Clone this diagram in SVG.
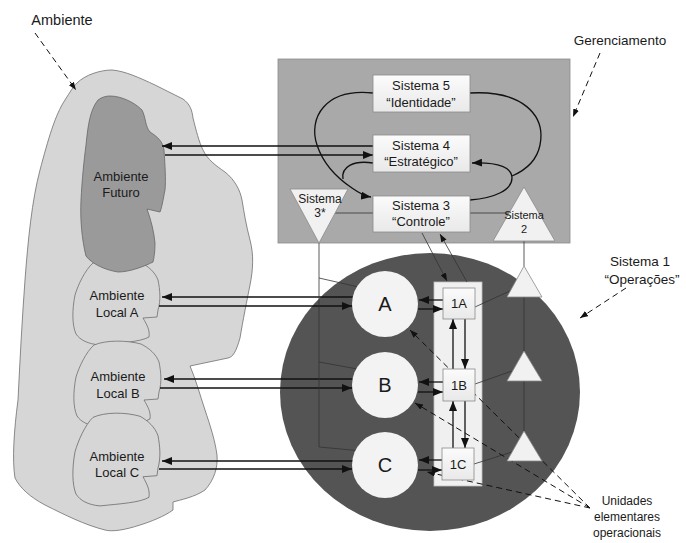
<svg xmlns="http://www.w3.org/2000/svg" width="686" height="543" viewBox="0 0 686 543">
  <defs>
    <marker id="arr" viewBox="0 0 10 8" refX="10" refY="4" markerWidth="10" markerHeight="8" markerUnits="userSpaceOnUse" orient="auto">
      <path d="M0,0 L10,4 L0,8 Z" fill="#111"/>
    </marker>
    <marker id="arrs" viewBox="0 0 8 6" refX="8" refY="3" markerWidth="8" markerHeight="6" markerUnits="userSpaceOnUse" orient="auto">
      <path d="M0,0 L8,3 L0,6 Z" fill="#111"/>
    </marker>
    <linearGradient id="boxg" x1="0" y1="0" x2="0" y2="1">
      <stop offset="0" stop-color="#fbfbfb"/>
      <stop offset="1" stop-color="#e9e9e9"/>
    </linearGradient>
  </defs>
  <style>
    text { font-family: "Liberation Sans", Arial, sans-serif; fill: #1a1a1a; text-anchor: middle; }
    .env { fill: #d6d6d6; stroke: #6e6e6e; stroke-width: 0.8; }
    .box { fill: url(#boxg); stroke: #8a8a8a; stroke-width: 0.8; }
    .tri { fill: #f1f1f1; stroke: #8a8a8a; stroke-width: 0.8; }
    .unit { fill: #f3f3f3; }
    .flow { fill: none; stroke: #111; stroke-width: 1.3; }
    .thin { fill: none; stroke: #333; stroke-width: 0.8; }
    .loop { fill: none; stroke: #111; stroke-width: 1.3; }
    .dash { fill: none; stroke: #111; stroke-width: 1; stroke-dasharray: 6 4; }
    .t13 { font-size: 13px; }
    .t12 { font-size: 12px; }
  </style>

  <!-- environment -->
  <g id="ambiente">
    <path class="env" d="M77,83 C85,75 100,70 112,70 C125,71 140,78 155,85 L183,99 C190,104 192,110 193,118 C196,130 199,142 203,150 C208,160 215,165 225,172 C235,180 240,190 242,200 C244,212 246,225 250,240 C254,255 253,270 250,285 C247,300 243,320 240,338 C236,352 233,357 228,358 L190,366 C196,380 200,395 205,410 C210,425 215,440 217,455 C218,468 214,480 205,490 C195,497 180,500 173,502 L173,510 C165,516 150,522 140,525 C125,530 112,532 105,530 C85,525 65,515 45,505 C30,497 20,488 15,478 C12,460 14,430 18,400 C20,360 22,320 25,280 C28,240 32,200 40,170 C48,140 55,115 65,100 C70,92 73,87 77,83 Z"/>
    <text x="62" y="25" style="font-size:14.5px">Ambiente</text>
  </g>
  <g id="ambiente-local-a">
    <path class="env" d="M93,263 C105,258 125,258 140,262 C148,266 155,272 158,280 C160,290 161,300 158,310 L157,317 L143,318 C147,325 150,330 149,337 C140,342 120,343 100,345 C88,344 80,340 76,334 C72,325 72,310 75,295 C78,285 85,270 93,263 Z"/>
    <text class="t13" x="117" y="300">Ambiente</text>
    <text class="t13" x="117" y="317">Local A</text>
  </g>
  <g id="ambiente-local-b">
    <path class="env" transform="translate(1,82)" d="M93,263 C105,258 125,258 140,262 C148,266 155,272 158,280 C160,290 161,300 158,310 L157,317 L143,318 C147,325 150,330 149,337 C140,342 120,343 100,345 C88,344 80,340 76,334 C72,325 72,310 75,295 C78,285 85,270 93,263 Z"/>
    <text class="t13" x="118" y="381">Ambiente</text>
    <text class="t13" x="118" y="398">Local B</text>
  </g>
  <g id="ambiente-local-c">
    <path class="env" transform="translate(0,156) scale(1,1.08) translate(0,-21)" d="M93,263 C105,258 125,258 140,262 C148,266 155,272 158,280 C160,290 161,300 158,310 L157,317 L143,318 C147,325 150,330 149,337 C140,342 120,343 100,345 C88,344 80,340 76,334 C72,325 72,310 75,295 C78,285 85,270 93,263 Z"/>
    <text class="t13" x="117" y="461">Ambiente</text>
    <text class="t13" x="117" y="477">Local C</text>
  </g>
  <g id="ambiente-futuro">
    <path d="M110,96 C122,96 135,103 142,110 C146,118 145,126 150,132 C158,137 163,142 164,150 C165,165 166,180 165,190 C163,200 162,207 160,212 L147,209 C151,220 154,232 155,243 C155,252 154,258 153,262 C145,266 130,272 118,272 C105,270 92,264 86,256 C82,240 80,220 81,200 C82,180 84,160 86,145 C88,125 90,110 98,100 C102,97 106,96 110,96 Z" fill="#9a9a9a" stroke="#666" stroke-width="0.8"/>
    <text class="t13" x="121" y="181">Ambiente</text>
    <text class="t13" x="121" y="197">Futuro</text>
  </g>

  <!-- management block -->
  <g id="gerenciamento">
    <rect x="278" y="59" width="292" height="184" fill="#a9a9a9" stroke="#8a8a8a" stroke-width="0.8"/>
    <text x="620" y="45" style="font-size:13.5px">Gerenciamento</text>
  </g>

  <!-- operations block -->
  <g id="sistema-1">
    <ellipse cx="430" cy="392" rx="150" ry="139" fill="#545454"/>
    <rect x="434" y="282" width="48" height="204" fill="#f0f0f0" stroke="#bdbdbd" stroke-width="0.8"/>
    <text x="640" y="266" style="font-size:13.5px">Sistema 1</text>
    <text x="642" y="284" style="font-size:13.5px">“Operações”</text>
  </g>

  <!-- connectors -->
  <g id="connectors">
    <!-- management loops -->
    <path class="loop" d="M373,93 C325,88 308,118 317,145 C324,166 340,180 352,188 C359,193 364,196 371,197" marker-end="url(#arr)"/>
    <path class="loop" d="M373,163 C353,160 341,167 343,179"/>
    <path class="loop" d="M470,93 C522,90 546,115 540,145 C537,160 526,170 512,176"/>
    <path class="loop" d="M470,200 C495,198 512,190 512,178 C512,168 500,162 472,163" marker-end="url(#arr)"/>
    <line class="thin" x1="335" y1="213" x2="373" y2="213"/>
    <line class="thin" x1="470" y1="213" x2="509" y2="213"/>

    <!-- environment exchanges -->
    <line class="flow" x1="373" y1="146" x2="162" y2="146" marker-end="url(#arr)"/>
    <line class="flow" x1="165" y1="155" x2="373" y2="155" marker-end="url(#arr)"/>
    <line class="flow" x1="353" y1="297" x2="162" y2="297" marker-end="url(#arr)"/>
    <line class="flow" x1="159" y1="306" x2="352" y2="306" marker-end="url(#arr)"/>
    <line class="flow" x1="353" y1="379" x2="164" y2="379" marker-end="url(#arr)"/>
    <line class="flow" x1="160" y1="388" x2="352" y2="388" marker-end="url(#arr)"/>
    <line class="flow" x1="353" y1="461" x2="162" y2="461" marker-end="url(#arr)"/>
    <line class="flow" x1="159" y1="469" x2="352" y2="469" marker-end="url(#arr)"/>

    <!-- Sistema 3 to operations -->
    <line class="thin" x1="422" y1="233" x2="447" y2="281" marker-end="url(#arrs)"/>
    <line class="thin" x1="467" y1="282" x2="440" y2="234" marker-end="url(#arrs)"/>

    <!-- Sistema 3* audit channel -->
    <polyline class="thin" points="319,243 319,447 362,451"/>
    <line class="thin" x1="319" y1="278" x2="363" y2="288"/>
    <line class="thin" x1="319" y1="362" x2="363" y2="370"/>

    <!-- Sistema 2 coordination -->
    <line class="thin" x1="524" y1="241" x2="524" y2="266"/>
    <line class="thin" x1="524" y1="297" x2="524" y2="352"/>
    <line class="thin" x1="524" y1="381" x2="524" y2="431"/>
    <line class="thin" x1="475" y1="307" x2="512" y2="290"/>
    <line class="thin" x1="475" y1="384" x2="512" y2="371"/>
    <line class="thin" x1="474" y1="464" x2="512" y2="452"/>

    <!-- unit to management exchanges -->
    <line class="flow" x1="443" y1="300" x2="419" y2="300" marker-end="url(#arr)"/>
    <line class="flow" x1="418" y1="309" x2="443" y2="309" marker-end="url(#arr)"/>
    <line class="flow" x1="443" y1="382" x2="419" y2="382" marker-end="url(#arr)"/>
    <line class="flow" x1="418" y1="392" x2="443" y2="392" marker-end="url(#arr)"/>
    <line class="flow" x1="442" y1="460" x2="419" y2="460" marker-end="url(#arr)"/>
    <line class="flow" x1="418" y1="470" x2="442" y2="470" marker-end="url(#arr)"/>
    <line class="flow" x1="453" y1="369" x2="453" y2="319" marker-end="url(#arr)"/>
    <line class="flow" x1="465" y1="319" x2="465" y2="369" marker-end="url(#arr)"/>
    <line class="flow" x1="453" y1="448" x2="453" y2="401" marker-end="url(#arr)"/>
    <line class="flow" x1="465" y1="401" x2="465" y2="448" marker-end="url(#arr)"/>

    <!-- callouts -->
    <line class="dash" x1="35" y1="33" x2="76" y2="90" marker-end="url(#arrs)"/>
    <line class="dash" x1="600" y1="53" x2="573" y2="117" marker-end="url(#arrs)"/>
    <line class="dash" x1="626" y1="288" x2="580" y2="318" marker-end="url(#arrs)"/>
    <line class="dash" x1="590" y1="508" x2="410" y2="330" marker-end="url(#arrs)"/>
    <line class="dash" x1="590" y1="508" x2="415" y2="403" marker-end="url(#arrs)"/>
    <line class="dash" x1="590" y1="508" x2="427" y2="472" marker-end="url(#arrs)"/>
  </g>

  <!-- management systems -->
  <g id="sistema-5">
    <rect class="box" x="373" y="75" width="97" height="37"/>
    <text class="t13" x="421" y="90">Sistema 5</text>
    <text class="t13" x="421" y="107">“Identidade”</text>
  </g>
  <g id="sistema-4">
    <rect class="box" x="373" y="135" width="97" height="37"/>
    <text class="t13" x="421" y="150">Sistema 4</text>
    <text class="t13" x="421" y="166">“Estratégico”</text>
  </g>
  <g id="sistema-3">
    <rect class="box" x="373" y="196" width="97" height="36"/>
    <text class="t13" x="421" y="210">Sistema 3</text>
    <text class="t13" x="421" y="226">“Controle”</text>
  </g>
  <g id="sistema-3-estrela">
    <polygon class="tri" points="290,189 348,189 319,243"/>
    <text class="t12" x="320" y="203">Sistema</text>
    <text class="t12" x="320" y="217">3*</text>
  </g>
  <g id="sistema-2">
    <polygon class="tri" points="524,187 493,241 555,241"/>
    <text x="524" y="219" style="font-size:11px">Sistema</text>
    <text x="524" y="233" style="font-size:11px">2</text>
  </g>

  <!-- operational units -->
  <g id="unidade-a">
    <circle class="unit" cx="385" cy="304" r="33"/>
    <text x="385" y="311" style="font-size:20px">A</text>
  </g>
  <g id="unidade-b">
    <circle class="unit" cx="385" cy="385" r="33"/>
    <text x="385" y="392" style="font-size:20px">B</text>
  </g>
  <g id="unidade-c">
    <circle class="unit" cx="385" cy="465" r="33"/>
    <text x="385" y="472" style="font-size:20px">C</text>
  </g>
  <g id="gestao-1a">
    <rect class="box" x="443" y="288" width="32" height="31"/>
    <text class="t13" x="459" y="308">1A</text>
  </g>
  <g id="gestao-1b">
    <rect class="box" x="443" y="369" width="32" height="32"/>
    <text class="t13" x="459" y="390">1B</text>
  </g>
  <g id="gestao-1c">
    <rect class="box" x="442" y="448" width="32" height="32"/>
    <text class="t13" x="458" y="469">1C</text>
  </g>
  <g id="coordenacao-a">
    <polygon class="tri" points="524,266 507,297 542,297"/>
  </g>
  <g id="coordenacao-b">
    <polygon class="tri" points="524,351 507,381 542,381"/>
  </g>
  <g id="coordenacao-c">
    <polygon class="tri" points="524,431 507,461 542,461"/>
  </g>

  <g id="unidades-label">
    <text class="t12" x="627" y="505">Unidades</text>
    <text class="t12" x="627" y="521">elementares</text>
    <text class="t12" x="627" y="537">operacionais</text>
  </g>
</svg>
